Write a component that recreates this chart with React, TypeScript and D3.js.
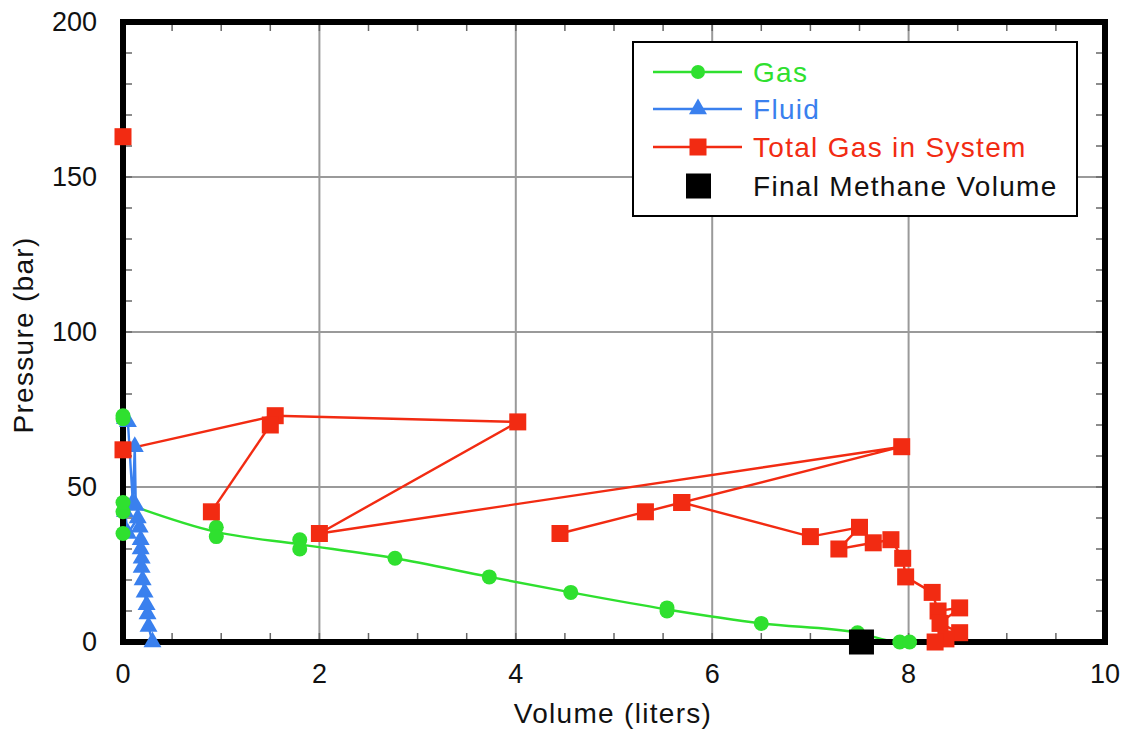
import React from "react";
import * as d3 from "d3";

type P = { x: number; y: number };
type RP = { x: number; y: number; run: number };

const xTicks = [0, 2, 4, 6, 8, 10];
const yTicks = [0, 50, 100, 150, 200];

const gasX = [0, 0, 0, 0, 0, 0.95, 0.95, 1.8, 1.8, 2.77, 3.73, 4.56, 5.54, 5.54, 6.5, 7.48, 7.91, 8.01];
const gasY = [73, 72, 35, 42, 45, 37, 34, 33, 30, 27, 21, 16, 11, 10, 6, 3, 0, 0];

const fluidX = [0.02, 0.05, 0.1, 0.12, 0.13, 0.02, 0.05, 0.15, 0.17, 0.18, 0.18, 0.19, 0.19, 0.2, 0.22, 0.24, 0.25, 0.26, 0.3];
const fluidY = [72, 71, 45, 63, 44, 42, 35, 40, 37, 33, 30, 27, 24, 20, 16, 12, 9, 5, 0];

const totalX = [0, 0, 1.55, 4.02, 2.0, 7.93, 5.69, 7.0, 7.5, 7.29, 7.64, 7.82, 7.94, 7.97, 8.24, 8.3, 8.52, 8.32, 8.52, 8.38, 8.27, 0.9, 1.5, 4.45, 5.32, 5.69];
const totalY = [163, 62, 73, 71, 35, 63, 45, 34, 37, 30, 32, 33, 27, 21, 16, 10, 11, 6, 3, 1, 0, 42, 70, 35, 42, 45];
const totalRun = [0, 1, 1, 1, 1, 1, 1, 1, 1, 1, 1, 1, 1, 1, 1, 1, 1, 1, 1, 1, 1, 2, 2, 3, 3, 3];

const finalX = [7.52];
const finalY = [0];

const legendLabels = ["Gas", "Fluid", "Total Gas in System", "Final Methane Volume"];

const GREEN = "#2fe02f";
const BLUE = "#3a80ee";
const RED = "#f22b12";

export default function App() {
  const W = 1130, H = 736;
  const L = 123, R = 1105, T = 22, B = 642;
  const x = d3.scaleLinear().domain([0, 10]).range([L, R]);
  const y = d3.scaleLinear().domain([0, 200]).range([B, T]);
  const font = "'Liberation Sans', Arial, Helvetica, sans-serif";

  const gas: P[] = gasX.map((v, i) => ({ x: v, y: gasY[i] }));
  const fluid: P[] = fluidX.map((v, i) => ({ x: v, y: fluidY[i] }));
  const total: RP[] = totalX.map((v, i) => ({ x: v, y: totalY[i], run: totalRun[i] }));
  const finals: P[] = finalX.map((v, i) => ({ x: v, y: finalY[i] }));

  // gas trend line: last reading at x=0, then the mean of each repeated reading
  const gasTrend: P[] = [gas[4]].concat(
    d3.rollups(gas.filter(d => d.x > 0), v => d3.mean(v, d => d.y) as number, d => d.x)
      .map(([k, m]) => ({ x: k, y: m }))
      .sort((a, b) => a.x - b.x)
  );

  const line = d3.line<P>().x(d => x(d.x)).y(d => y(d.y));
  const runs = d3.groups(total, d => d.run).map(g => g[1]);

  const minorX = d3.range(0, 10.001, 0.5);
  const minorY = d3.range(0, 200.001, 10);
  const tri = d3.symbol().type(d3.symbolTriangle).size(140)() as string;

  const legY = [72, 109, 147, 186];
  const legColors = [GREEN, BLUE, RED, "#111"];

  return (
    <svg width={W} height={H} style={{ position: "absolute", left: 0, top: 0, background: "#fff" }} fontFamily={font}>
      {/* grid */}
      {xTicks.slice(1, -1).map(t => (
        <line key={"gx" + t} x1={x(t)} x2={x(t)} y1={T} y2={B} stroke="#9a9a9a" strokeWidth={2} />
      ))}
      {yTicks.slice(1, -1).map(t => (
        <line key={"gy" + t} x1={L} x2={R} y1={y(t)} y2={y(t)} stroke="#9a9a9a" strokeWidth={2} />
      ))}
      {/* minor ticks */}
      {minorX.map(t => (
        <g key={"mx" + t}>
          <line x1={x(t)} x2={x(t)} y1={B} y2={B - 9} stroke="#666" strokeWidth={1.5} />
          <line x1={x(t)} x2={x(t)} y1={T} y2={T + 9} stroke="#666" strokeWidth={1.5} />
        </g>
      ))}
      {minorY.map(t => (
        <g key={"my" + t}>
          <line x1={L} x2={L + 9} y1={y(t)} y2={y(t)} stroke="#666" strokeWidth={1.5} />
          <line x1={R} x2={R - 9} y1={y(t)} y2={y(t)} stroke="#666" strokeWidth={1.5} />
        </g>
      ))}

      {/* gas line (behind frame) */}
      <path d={line.curve(d3.curveMonotoneX)(gasTrend) || ""} fill="none" stroke={GREEN} strokeWidth={2.4} />
      {/* fluid line */}
      <path d={line.curve(d3.curveLinear)(fluid) || ""} fill="none" stroke={BLUE} strokeWidth={2.4} />
      {/* total gas lines */}
      {runs.map((r, i) => (
        <path key={"r" + i} d={line.curve(d3.curveLinear)(r) || ""} fill="none" stroke={RED} strokeWidth={2.4} />
      ))}

      {/* frame */}
      <rect x={L} y={T} width={R - L} height={B - T} fill="none" stroke="#000" strokeWidth={6} />

      {/* tick labels */}
      {xTicks.map(t => (
        <text key={"xt" + t} x={x(t)} y={B + 41} textAnchor="middle" fontSize={27} fill="#111">{t}</text>
      ))}
      {yTicks.map(t => (
        <text key={"yt" + t} x={97} y={y(t) + 9} textAnchor="end" fontSize={27} fill="#111">{t}</text>
      ))}
      <text x={613} y={723} textAnchor="middle" fontSize={28} letterSpacing={1.3} fill="#111">Volume (liters)</text>
      <text transform={`translate(33,335) rotate(-90)`} textAnchor="middle" fontSize={28} letterSpacing={1.3} fill="#111">Pressure (bar)</text>

      {/* markers */}
      {fluid.map((d, i) => (
        <path key={"f" + i} d={tri} transform={`translate(${x(d.x)},${y(d.y)})`} fill={BLUE} />
      ))}
      {gas.map((d, i) => (
        <circle key={"g" + i} cx={x(d.x)} cy={y(d.y)} r={7.5} fill={GREEN} />
      ))}
      {total.map((d, i) => (
        <rect key={"t" + i} x={x(d.x) - 8.5} y={y(d.y) - 8.5} width={17} height={17} fill={RED} />
      ))}
      {finals.map((d, i) => (
        <rect key={"fm" + i} x={x(d.x) - 12.5} y={y(d.y) - 12.5} width={25} height={25} fill="#000" />
      ))}

      {/* legend */}
      <rect x={633} y={42} width={444} height={174} fill="#fff" stroke="#000" strokeWidth={2} />
      {legendLabels.map((lab, i) => (
        <g key={"lg" + i}>
          {i < 3 && <line x1={653} x2={742} y1={legY[i]} y2={legY[i]} stroke={legColors[i]} strokeWidth={2.4} />}
          {i === 0 && <circle cx={698} cy={legY[i]} r={7} fill={GREEN} />}
          {i === 1 && <path d={tri} transform={`translate(698,${legY[i]})`} fill={BLUE} />}
          {i === 2 && <rect x={689.5} y={legY[i] - 8.5} width={17} height={17} fill={RED} />}
          {i === 3 && <rect x={686} y={legY[i] - 12.5} width={25} height={25} fill="#000" />}
          <text x={753} y={legY[i] + 10} fontSize={28} letterSpacing={1.3} fill={legColors[i]}>{lab}</text>
        </g>
      ))}
    </svg>
  );
}
